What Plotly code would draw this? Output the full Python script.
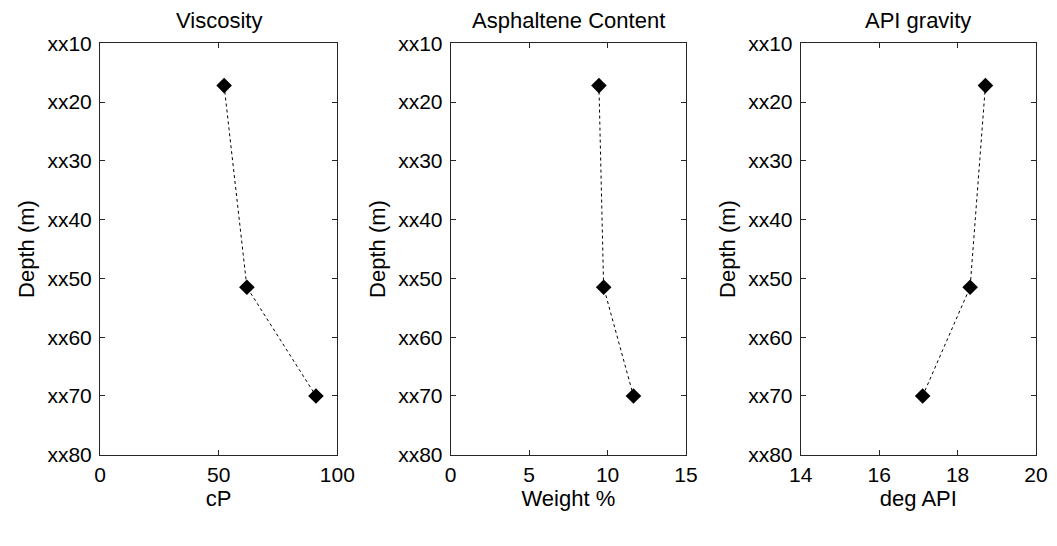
import plotly.graph_objects as go
from plotly.subplots import make_subplots

depth = [17.2, 51.5, 70.0]
viscosity_cp = [52.3, 61.9, 91.0]
asphaltene_wt = [9.45, 9.75, 11.65]
api_gravity = [18.71, 18.32, 17.11]

titles = ["Viscosity", "Asphaltene Content", "API gravity"]
xlabels = ["cP", "Weight %", "deg API"]
xranges = [[0, 100], [0, 15], [14, 20]]
xticks = [[0, 50, 100], [0, 5, 10, 15], [14, 16, 18, 20]]
ytick_vals = [10, 20, 30, 40, 50, 60, 70, 80]
ytick_text = ["xx10", "xx20", "xx30", "xx40", "xx50", "xx60", "xx70", "xx80"]

W, H = 1057, 546
OFF = 8  # page body margin offset
FONT = "Liberation Sans, Arial, sans-serif"

fig = make_subplots(rows=1, cols=3)
series = [viscosity_cp, asphaltene_wt, api_gravity]
for i, xs in enumerate(series):
    fig.add_trace(go.Scatter(
        x=xs, y=depth, mode="lines+markers",
        line=dict(color="black", width=1, dash="dot"),
        marker=dict(symbol="diamond", size=12, color="black"),
        showlegend=False), row=1, col=i + 1)

px_x = [[100, 337.3], [450.7, 686], [800.7, 1036]]
xdom = [[(a - OFF) / W, (b - OFF) / W] for a, b in px_x]
ydom = [(H - (454.7 - OFF)) / H, (H - (43.3 - OFF)) / H]

axcommon = dict(showline=True, linecolor="#262626", linewidth=1, mirror="ticks",
                ticks="inside", ticklen=5, tickcolor="#262626", showgrid=False,
                zeroline=False, automargin=False,
                tickfont=dict(family=FONT, size=21, color="black"))

for i in range(3):
    fig.update_xaxes(domain=xdom[i], range=xranges[i], tickvals=xticks[i],
                     title=dict(text=xlabels[i], font=dict(family=FONT, size=22, color="black"),
                                standoff=2),
                     ticklabelstandoff=1,
                     **axcommon, row=1, col=i + 1)
    fig.update_yaxes(domain=ydom, range=[80, 10], tickvals=ytick_vals, ticktext=ytick_text,
                     title=dict(text="Depth (m)", font=dict(family=FONT, size=22, color="black"),
                                standoff=6),
                     ticklabelstandoff=3,
                     **axcommon, row=1, col=i + 1)
    cx = (xdom[i][0] + xdom[i][1]) / 2
    fig.add_annotation(text=titles[i], x=cx, y=(H - (20 - OFF)) / H, xref="paper", yref="paper",
                       showarrow=False, xanchor="center", yanchor="middle",
                       font=dict(family=FONT, size=22, color="black"))

fig.update_layout(width=W, height=H, margin=dict(l=0, r=0, t=0, b=0, autoexpand=False),
                  paper_bgcolor="white", plot_bgcolor="white",
                  font=dict(family=FONT, color="black"))

fig.write_html("out.html")
